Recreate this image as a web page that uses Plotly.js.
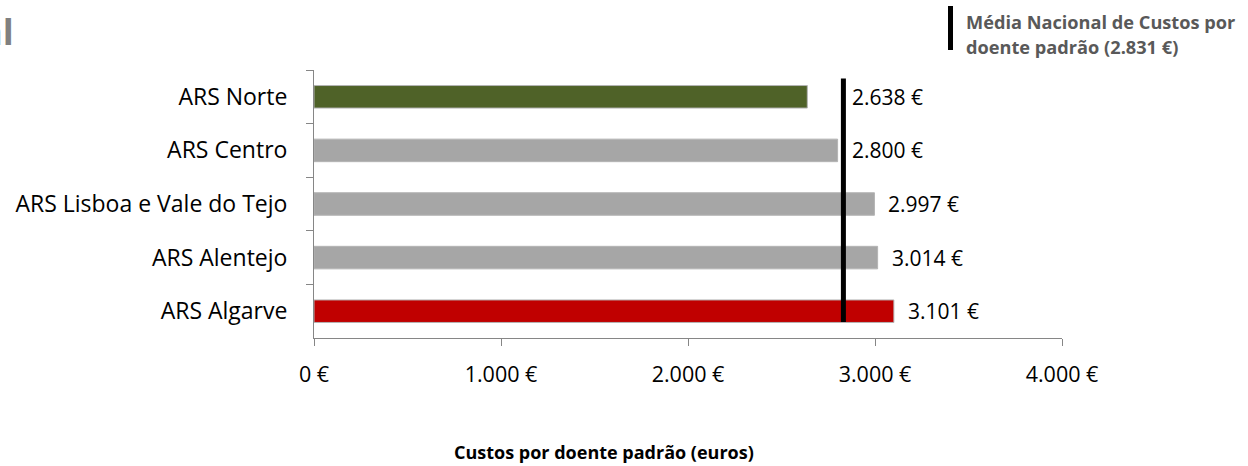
<!DOCTYPE html>
<html>
<head>
<meta charset="utf-8">
<script src="https://cdn.plot.ly/plotly-3.0.1.min.js"></script>
<style>html,body{margin:0;padding:0;background:#fff;}#chart{width:1248px;height:466px;}</style>
</head>
<body>
<div id="chart"></div>
<script>
const categories = ["ARS Norte", "ARS Centro", "ARS Lisboa e Vale do Tejo", "ARS Alentejo", "ARS Algarve"];
const values = [2638, 2800, 2997, 3014, 3101];
const barColors = ["#4F6228", "#A6A6A6", "#A6A6A6", "#A6A6A6", "#C00000"];
const valueLabels = ["2.638 €", "2.800 €", "2.997 €", "3.014 €", "3.101 €"];
const nationalMean = 2831;
const meanLabel = ["Média Nacional de Custos por", "doente padrão (2.831 €)"];
const tickVals = [0, 1000, 2000, 3000, 4000];
const tickText = ["0 €", "1.000 €", "2.000 €", "3.000 €", "4.000 €"];
const axisTitle = "Custos por doente padrão (euros)";
const clippedTitle = "al";

const FONT = "Open Sans, Noto Sans, sans-serif";
const W = 748, H = 268, L = 314, T = 70;
const px = x => (x - L) / W;
const py = y => 1 - (y - T) / H;

const trace = {
  type: "bar",
  orientation: "h",
  y: categories,
  x: values,
  marker: { color: barColors, line: { color: "#B4B4B4", width: 1 } },
  hoverinfo: "skip",
  showlegend: false
};

const annotations = categories.map((c, i) => {
  const nearLine = values[i] < nationalMean;
  return {
    x: nearLine ? nationalMean : values[i],
    y: c,
    xref: "x", yref: "y",
    text: valueLabels[i],
    showarrow: false,
    xanchor: "left",
    xshift: nearLine ? 7 : 12,
    font: { family: FONT, size: 21, color: "#000" }
  };
});

annotations.push({
  xref: "paper", yref: "paper",
  x: px(604), y: py(452),
  xanchor: "center", yanchor: "middle",
  text: "<b>" + axisTitle + "</b>",
  showarrow: false,
  font: { family: FONT, size: 18, color: "#000" }
});

meanLabel.forEach((t, k) => {
  annotations.push({
    xref: "paper", yref: "paper",
    x: px(964), y: py(22 + k * 25),
    xanchor: "left", yanchor: "middle",
    align: "left",
    text: "<b>" + t + "</b>",
    showarrow: false,
    font: { family: FONT, size: 18.2, color: "#595959" }
  });
});

annotations.push({
  xref: "paper", yref: "paper",
  x: px(16), y: py(31),
  xanchor: "right", yanchor: "middle",
  text: "<b>" + clippedTitle + "</b>",
  showarrow: false,
  font: { family: FONT, size: 36, color: "#808080" }
});

const layout = {
  width: 1248, height: 466,
  margin: { l: L, r: 1248 - L - W, t: T, b: 466 - T - H },
  paper_bgcolor: "#fff", plot_bgcolor: "#fff",
  bargap: 0.58,
  font: { family: FONT, size: 18, color: "#000" },
  xaxis: {
    range: [0, 4000],
    tickvals: tickVals, ticktext: tickText,
    showgrid: false, zeroline: false,
    showline: true, linecolor: "#868686", linewidth: 1,
    ticks: "outside", ticklen: 7, tickcolor: "#868686",
    ticklabelstandoff: 10,
    tickfont: { family: FONT, size: 21.5, color: "#000" },
    fixedrange: true
  },
  yaxis: {
    autorange: "reversed",
    type: "category",
    showgrid: false, zeroline: false,
    showline: true, linecolor: "#868686", linewidth: 1,
    ticks: "outside", ticklen: 7, tickcolor: "#868686",
    tickson: "boundaries",
    ticklabelstandoff: 21,
    tickfont: { family: FONT, size: 23, color: "#000" },
    fixedrange: true
  },
  shapes: [
    {
      type: "line", xref: "x", yref: "y",
      x0: nationalMean, x1: nationalMean, y0: -0.34, y1: 4.2,
      line: { color: "#000", width: 5 }, layer: "above"
    },
    {
      type: "line", xref: "paper", yref: "paper",
      x0: px(950.5), x1: px(950.5),
      y0: py(6), y1: py(50),
      line: { color: "#000", width: 5 }
    }
  ],
  annotations: annotations
};

Plotly.newPlot("chart", [trace], layout, { displayModeBar: false, staticPlot: true });
</script>
</body>
</html>
